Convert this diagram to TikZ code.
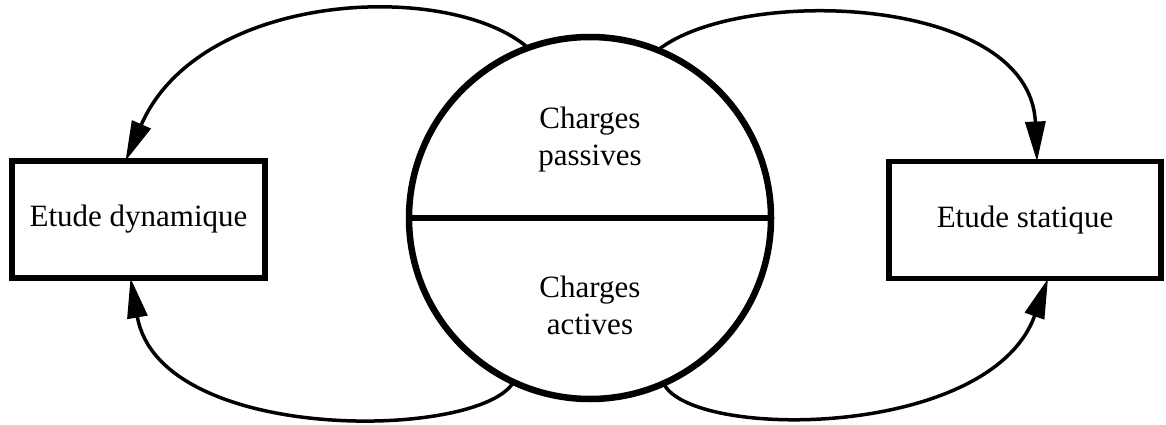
\documentclass[tikz,border=0pt]{standalone}
\usepackage{fontspec}
\setmainfont{Liberation Serif}
\usetikzlibrary{arrows.meta}
\begin{document}
\begin{tikzpicture}[x=1pt,y=-1pt,
  box/.style={draw,line width=5.5pt,inner sep=0pt,outer sep=0pt,minimum height=117pt,font=\fontsize{31}{37}\selectfont},
  ring/.style={draw,circle,line width=6.5pt,inner sep=0pt,outer sep=0pt,minimum size=362pt},
  lbl/.style={align=center,font=\fontsize{31}{37}\selectfont,inner sep=0pt},
  flow/.style={line width=3.5pt,-{Triangle[length=40pt,width=20pt]}}]
\useasboundingbox (0,0) rectangle (1166,425);
\node[ring] (C) at (590,218) {};
\draw[line width=5.5pt] (C.west) -- (C.east);
\node[box,minimum width=253pt] (L) at (138.5,219.5) {Etude dynamique};
\node[box,minimum width=272pt] (R) at (1025,220) {Etude statique};
\node[lbl] (P) at (590,140) {Charges\\passives};
\node[lbl] (A) at (590,305) {Charges\\actives};
\coordinate (Lt) at ([xshift=-13pt]L.north);
\coordinate (Lb) at ([xshift=-8pt]L.south);
\coordinate (Rt) at ([xshift=12pt]R.north);
\coordinate (Rb) at ([xshift=23pt]R.south);
\draw[flow] (C.110.6) .. controls (450,-20) and (200,-10) .. (Lt);
\draw[flow] (C.68.8) .. controls (740,-15) and (1030,-5) .. (Rt);
\draw[flow] (C.245.6) .. controls (480,440) and (160,445) .. (Lb);
\draw[flow] (C.294.4) .. controls (690,440) and (990,440) .. (Rb);
\end{tikzpicture}
\end{document}
